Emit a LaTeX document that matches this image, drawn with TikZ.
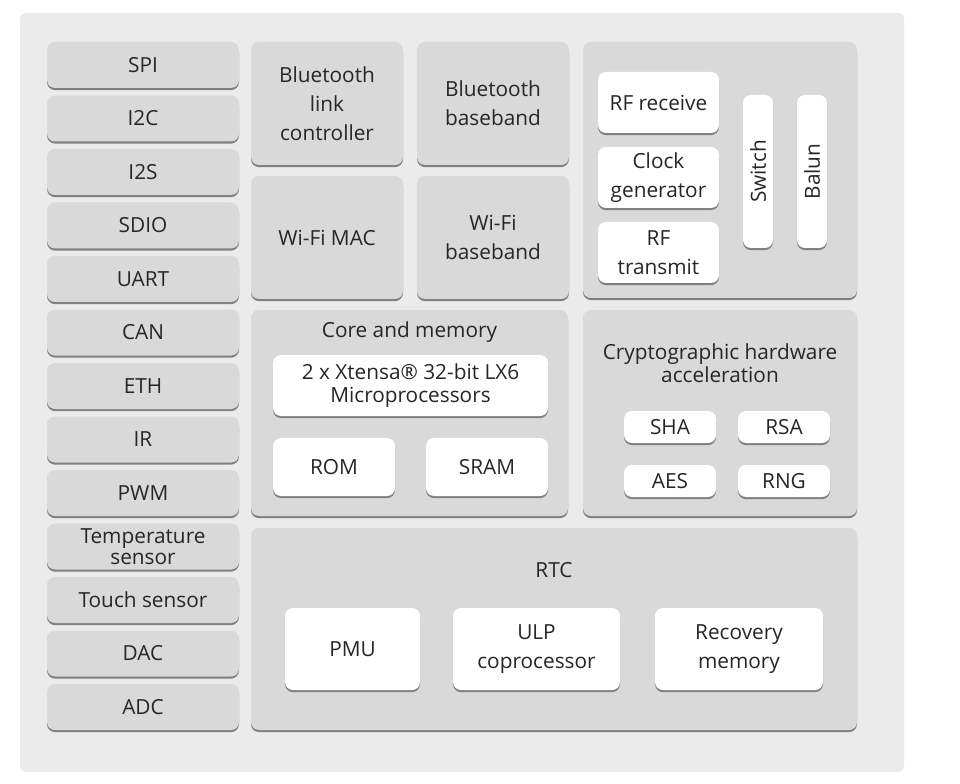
\documentclass[tikz,border=0pt]{standalone}
\usepackage{fontspec}
\setmainfont{Open Sans}
\usetikzlibrary{shadows}
\definecolor{bgcol}{HTML}{EBEBEB}
\definecolor{panelcol}{HTML}{D9D9D9}
\definecolor{txtcol}{HTML}{262626}

\begin{document}
\begin{tikzpicture}[x=0.75pt,y=-0.75pt,
  wh/.style 2 args={minimum width=#1*0.75pt,minimum height=#2*0.75pt},
  base/.style={rounded corners=6pt,inner sep=0pt,outer sep=0pt,align=center,
    text=txtcol,anchor=north west,font=\fontsize{15.6}{21.8}\selectfont,
    drop shadow={shadow xshift=0pt,shadow yshift=-1.6pt,fill=black!50,opacity=1}},
  panel/.style={base,fill=panelcol},
  chip/.style={base,fill=white},
  title/.style={align=center,text=txtcol,font=\fontsize{15.6}{17.3}\selectfont}]
  \useasboundingbox (0,0) rectangle (960,784);
  \fill[bgcol,rounded corners=4pt] (20,13) rectangle (904,772);
  % peripherals
  \foreach \nm/\txt/\lsk [count=\i from 0] in {spi/SPI/21.8,i2c/I2C/21.8,i2s/I2S/21.8,
      sdio/SDIO/21.8,uart/UART/21.8,can/CAN/21.8,eth/ETH/21.8,ir/IR/21.8,pwm/PWM/21.8,
      temp/{Temperature\\sensor}/15.6,touch/Touch sensor/21.8,dac/DAC/21.8,adc/ADC/21.8}
    \node[panel,wh={192}{46},font=\fontsize{15.6}{\lsk}\selectfont] (\nm)
      at (47,{42+\i*53.5}) {\txt};
  % radio
  \node[panel,wh={152}{123}] (btlc) at (251,42) {Bluetooth\\link\\controller};
  \node[panel,wh={152}{123}] (wifimac) at (251,176) {Wi-Fi MAC};
  \node[panel,wh={152}{123}] (btbb) at (417,42) {Bluetooth\\baseband};
  \node[panel,wh={152}{123}] (wifibb) at (417,176) {Wi-Fi\\baseband};
  \node[panel,wh={274}{256}] (rf) at (583,42) {};
  \node[chip,wh={121}{61}] (rfrx) at (598,72) {RF receive};
  \node[chip,wh={121}{61}] (clk) at (598,147) {Clock\\generator};
  \node[chip,wh={121}{61}] (rftx) at (598,222) {RF\\transmit};
  \node[chip,wh={153}{30},anchor=center,rotate=90] (switch) at (758,171.5) {Switch};
  \node[chip,wh={153}{30},anchor=center,rotate=90] (balun) at (812,171.5) {Balun};
  % core
  \node[panel,wh={317}{206}] (core) at (251,310) {};
  \node[title] (coret) at (409.5,332) {Core and memory};
  \node[chip,wh={275}{61},font=\fontsize{15.6}{17.3}\selectfont] (cpu) at (273,355)
    {2 x Xtensa® 32-bit LX6\\Microprocessors};
  \node[chip,wh={122}{58}] (rom) at (273,438) {ROM};
  \node[chip,wh={122}{58}] (sram) at (426,438) {SRAM};
  % crypto
  \node[panel,wh={274}{206}] (crypto) at (583,310) {};
  \node[title] (cryptot) at (720,363.5) {Cryptographic hardware\\acceleration};
  \node[chip,wh={92}{32}] (sha) at (624,411) {SHA};
  \node[chip,wh={92}{32}] (rsa) at (738,411) {RSA};
  \node[chip,wh={92}{32}] (aes) at (624,465) {AES};
  \node[chip,wh={92}{32}] (rng) at (738,465) {RNG};
  % rtc
  \node[panel,wh={606}{202}] (rtc) at (251,528) {};
  \node[title] (rtct) at (554,570) {RTC};
  \node[chip,wh={135}{82}] (pmu) at (285,608) {PMU};
  \node[chip,wh={167}{82}] (ulp) at (453,608) {ULP\\coprocessor};
  \node[chip,wh={168}{82}] (recmem) at (655,608) {Recovery\\memory};
\end{tikzpicture}
\end{document}
